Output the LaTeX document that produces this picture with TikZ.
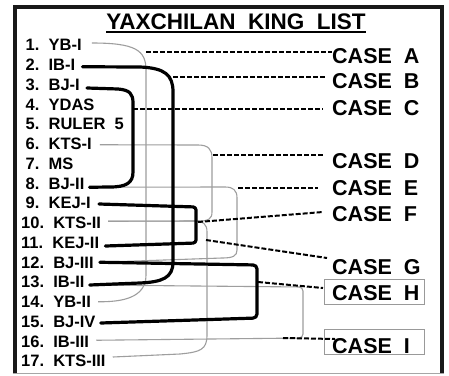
\documentclass[tikz,border=0pt]{standalone}
\usepackage{fontspec}
\setmainfont{Liberation Sans}
\begin{document}
\begin{tikzpicture}[x=1pt,y=-1pt,
  lst/.style={anchor=west, inner sep=0pt, font=\fontsize{16.5}{16.5}\selectfont\bfseries, text height=11.8pt, text depth=0pt},
  cs/.style={anchor=west, inner sep=0pt, font=\fontsize{21.5}{21.5}\selectfont\bfseries, text height=15.4pt, text depth=0pt},
  gl/.style={draw=black!38, line width=1.1pt},
  bl/.style={draw=black, line width=3.2pt, line cap=round, line join=round},
  dl/.style={draw=black, line width=2pt, dash pattern=on 5pt off 2pt},
  cbox/.style={draw=black!40, line width=0.9pt}
]
\useasboundingbox (0,0) rectangle (449,375);
\fill[white] (0,0) rectangle (449,375);
% frame
\fill[black!90] (12.5,5) rectangle (444,9);
\fill[black!90] (12.5,5) rectangle (16.5,373);
\fill[black!90] (439.5,5) rectangle (444,373);
\draw[black!35, line width=0.8pt] (12.5,373) -- (444,373);
% title
\node[inner sep=0pt, font=\fontsize{22.5}{22.5}\selectfont\bfseries, text height=16.1pt, text depth=0pt] (title) at (236,21.5) {YAXCHILAN\ \ KING\ \ LIST};
\draw[line width=1.8pt] ([yshift=-2.5pt]title.south west) -- ([yshift=-2.5pt]title.south east);
% list
\node[lst] (r1) at (25.5,45) {1.\ \ YB-I};
\node[lst] (r2) at (25.5,64.75) {2.\ \ IB-I};
\node[lst] (r3) at (25.5,84.5) {3.\ \ BJ-I};
\node[lst] (r4) at (25.5,104.25) {4.\ \ YDAS};
\node[lst] (r5) at (25.5,124) {5.\ \ RULER\ \ 5};
\node[lst] (r6) at (25.5,143.75) {6.\ \ KTS-I};
\node[lst] (r7) at (25.5,163.5) {7.\ \ MS};
\node[lst] (r8) at (25.5,183.25) {8.\ \ BJ-II};
\node[lst] (r9) at (25.5,203) {9.\ \ KEJ-I};
\node[lst] (r10) at (21,222.75) {10.\ \ KTS-II};
\node[lst] (r11) at (21,242.5) {11.\ \ KEJ-II};
\node[lst] (r12) at (21,262.25) {12.\ \ BJ-III};
\node[lst] (r13) at (21,282) {13.\ \ IB-II};
\node[lst] (r14) at (21,301.75) {14.\ \ YB-II};
\node[lst] (r15) at (21,321.5) {15.\ \ BJ-IV};
\node[lst] (r16) at (21,341.25) {16.\ \ IB-III};
\node[lst] (r17) at (21,361) {17.\ \ KTS-III};
% case labels
\node[cs] (cA) at (332,56) {CASE\ \ A};
\node[cs] (cB) at (332,81) {CASE\ \ B};
\node[cs] (cC) at (332,108) {CASE\ \ C};
\node[cs] (cD) at (332,161) {CASE\ \ D};
\node[cs] (cE) at (332,188) {CASE\ \ E};
\node[cs] (cF) at (332,214) {CASE\ \ F};
\node[cs] (cG) at (332,267) {CASE\ \ G};
\node[cs] (cH) at (332,293) {CASE\ \ H};
\node[cs] (cI) at (332,346) {CASE\ \ I};
\draw[cbox] (324,279) rectangle (424,304);
\draw[cbox] (324,329) rectangle (424,354);
% line starts
\coordinate (s1) at ([xshift=10pt,yshift=2pt]r1.east);
\coordinate (s2) at ([xshift=7pt,yshift=-2pt]r2.east);
\coordinate (s3) at ([xshift=7pt,yshift=-3.5pt]r3.east);
\coordinate (s6) at ([xshift=8pt,yshift=-1pt]r6.east);
\coordinate (s8) at ([xshift=5pt,yshift=-4pt]r8.east);
\coordinate (s9) at ([xshift=8pt,yshift=-1pt]r9.east);
\coordinate (s10) at ([xshift=7pt,yshift=1.5pt]r10.east);
\coordinate (s11) at ([xshift=6pt,yshift=-3.5pt]r11.east);
\coordinate (s12) at ([xshift=6pt]r12.east);
\coordinate (s13) at ([xshift=5pt,yshift=-3pt]r13.east);
\coordinate (s14) at ([xshift=7pt]r14.east);
\coordinate (s15) at ([xshift=5pt,yshift=-1.5pt]r15.east);
\coordinate (s16) at ([xshift=7pt,yshift=1pt]r16.east);
\coordinate (s17) at ([xshift=7pt,yshift=4pt]r17.east);
% gray connectors
\draw[gl] (s1) .. controls (135,43) and (146,50) .. (146,70) -- (146,275) .. controls (146,298) and (122,302) .. (s14);
\draw[gl] (s8) -- (225,187) .. controls (233,187) and (237,190) .. (237,198) -- (237,250) .. controls (237,256) and (233,258) .. (222,258) -- (s12);
\draw[gl] (s6) -- (198,145) .. controls (208,145) and (212,149) .. (212,158) -- (212,212) .. controls (212,219) and (208,221) .. (200,221) -- (s10);
\draw[gl] (s10) -- (195,221) .. controls (203,221) and (207,224) .. (207,232) -- (207,335) .. controls (207,350) and (200,352) .. (180,354) -- (s17);
\draw[gl, rounded corners=4pt] (s13) -- (303,287) -- (303,338) -- (s16);
% black connectors
\draw[bl] (s2) -- (140,67) .. controls (165,68) and (173,75) .. (173,92) -- (173,262) .. controls (173,278) and (162,282) .. (140,283) -- (s13);
\draw[bl] (s3) -- (118,89) .. controls (130,90) and (133,94) .. (133,103) -- (133,172) .. controls (133,183) and (126,187) .. (110,187) -- (s8);
\draw[bl, rounded corners=3pt] (s9) -- (196,207) -- (196,243) -- (s11);
\draw[bl, rounded corners=4pt] (s12) -- (257,265) -- (257,318) -- (s15);
% dashed leaders
\coordinate (dA) at (146,52);
\coordinate (dB) at (173,77);
\coordinate (dC) at (133,109);
\coordinate (dD) at (213,155);
\coordinate (dE) at (238,188);
\coordinate (dF) at (198,222);
\coordinate (dG) at (206,240);
\coordinate (dH) at (258,282);
\coordinate (dI) at (283,338);
\draw[dl] (dA) -- (cA.west |- 0,52);
\draw[dl] (dB) -- ([xshift=-6pt]cB.west |- 0,77);
\draw[dl] (dC) -- ([xshift=-9pt]cC.west |- 0,109);
\draw[dl] (dD) -- ([xshift=-9pt]cD.west |- 0,155);
\draw[dl] (dE) -- ([xshift=-14pt]cE.west |- 0,188);
\draw[dl] (dF) -- ([xshift=-9pt]cF.west |- 0,212);
\draw[dl] (dG) -- ([xshift=-5pt]cG.west |- 0,258);
\draw[dl] (dH) -- ([xshift=-9pt]cH.west |- 0,288);
\draw[dl] (dI) -- ([xshift=3pt]cI.west |- 0,339);
\end{tikzpicture}
\end{document}
